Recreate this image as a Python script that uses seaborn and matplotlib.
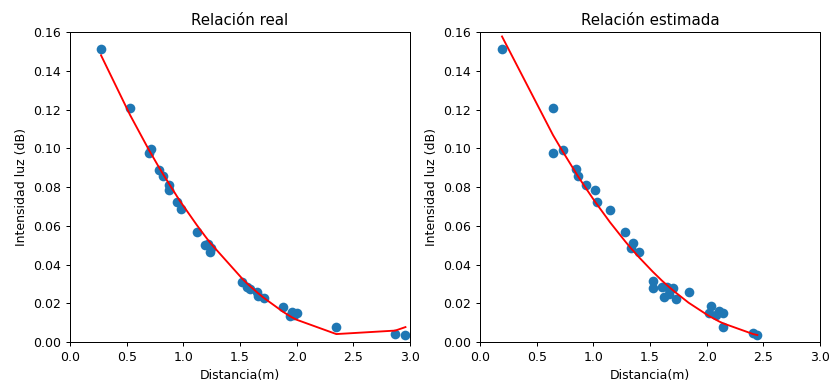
import matplotlib
matplotlib.use("Agg")
import matplotlib.pyplot as plt
import seaborn as sns
import pandas as pd

# Left panel: real relation
real_x = [0.274, 0.53, 0.697, 0.715, 0.785, 0.82, 0.874, 0.874, 0.944, 0.98,
          1.12, 1.19, 1.22, 1.235, 1.24, 1.52, 1.56, 1.59, 1.65, 1.66, 1.71,
          1.88, 1.94, 1.96, 1.98, 2.0, 2.35, 2.87, 2.96]
real_y = [0.151, 0.121, 0.0975, 0.0996, 0.0888, 0.0857, 0.081, 0.0785, 0.0723, 0.0686,
          0.0568, 0.050, 0.0506, 0.0465, 0.0485, 0.031, 0.0284, 0.0274, 0.0258, 0.0237, 0.0227,
          0.018, 0.0134, 0.0155, 0.0139, 0.015, 0.0077, 0.0041, 0.0036]
real_fit = [0.148, 0.1172, 0.0991, 0.0973, 0.0902, 0.0868, 0.0817, 0.0817, 0.0752, 0.0720,
            0.0603, 0.0548, 0.0525, 0.0514, 0.0510, 0.0327, 0.0304, 0.0288, 0.0257, 0.0252, 0.0228,
            0.0156, 0.0134, 0.0127, 0.0121, 0.0115, 0.0041, 0.0059, 0.0077]

# Right panel: estimated relation
est_x = [0.194, 0.644, 0.644, 0.732, 0.847, 0.868, 0.935, 1.015, 1.03, 1.147,
         1.28, 1.33, 1.353, 1.405, 1.524, 1.524, 1.603, 1.62, 1.653, 1.67, 1.706,
         1.727, 1.84, 2.018, 2.04, 2.085, 2.11, 2.147, 2.147, 2.41, 2.447]
est_y = [0.151, 0.121, 0.0975, 0.0993, 0.0892, 0.0858, 0.081, 0.0785, 0.0724, 0.0681,
         0.0569, 0.0484, 0.0509, 0.0466, 0.0315, 0.028, 0.0285, 0.0234, 0.0282, 0.0248, 0.0277,
         0.022, 0.026, 0.0148, 0.0186, 0.0142, 0.0162, 0.0151, 0.0079, 0.0045, 0.0036]
est_fit = [0.1577, 0.1068, 0.1068, 0.0981, 0.0872, 0.0852, 0.0793, 0.0724, 0.0712, 0.0618,
           0.0520, 0.0485, 0.0470, 0.0436, 0.0363, 0.0363, 0.0318, 0.0309, 0.0292, 0.0283, 0.0265,
           0.0255, 0.0203, 0.0135, 0.0128, 0.0114, 0.0106, 0.0096, 0.0096, 0.0041, 0.0036]

titles = ["Relación real", "Relación estimada"]
xlabel = "Distancia(m)"
ylabel = "Intensidad luz (dB)"

DPI = 90
fig, axes = plt.subplots(1, 2, figsize=(830 / DPI, 383 / DPI), dpi=DPI)
fig.subplots_adjust(left=0.0843, right=0.988, top=0.9164, bottom=0.107, wspace=0.206)

panels = [(real_x, real_y, real_fit), (est_x, est_y, est_fit)]
for ax, (xs, ys, fs), title in zip(axes, panels, titles):
    df = pd.DataFrame({"x": xs, "y": ys})
    sns.scatterplot(data=df, x="x", y="y", ax=ax, color="#1f77b4", s=60, linewidth=0, zorder=2)
    dfl = pd.DataFrame({"x": sorted(xs), "y": fs})
    sns.lineplot(data=dfl, x="x", y="y", ax=ax, color="red", estimator=None, sort=False,
                 linewidth=1.5, zorder=3)
    ax.set_xlim(0, 3.0)
    ax.set_ylim(0, 0.16)
    ax.set_xticks([0.0, 0.5, 1.0, 1.5, 2.0, 2.5, 3.0])
    ax.set_yticks([0.0, 0.02, 0.04, 0.06, 0.08, 0.10, 0.12, 0.14, 0.16])
    ax.set_yticklabels(["0.00", "0.02", "0.04", "0.06", "0.08", "0.10", "0.12", "0.14", "0.16"])
    ax.set_xlabel(xlabel)
    ax.set_ylabel(ylabel)
    ax.set_title(title)

fig.savefig("out.png", dpi=DPI)
